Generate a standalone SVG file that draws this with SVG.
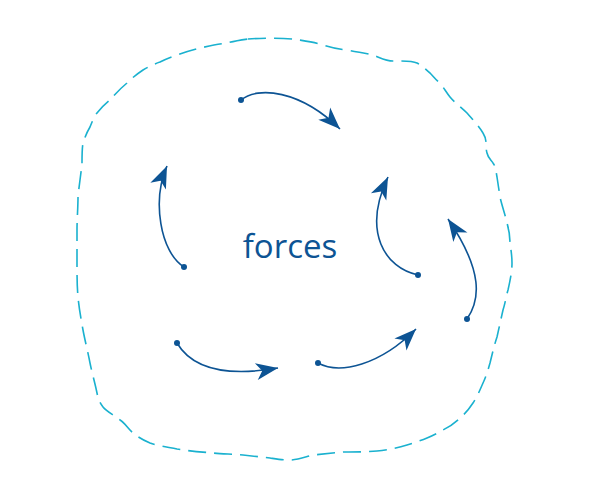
<svg xmlns="http://www.w3.org/2000/svg" width="600" height="500" viewBox="0 0 600 500">
<style>
.outline{fill:none;stroke:#1ab1cf;stroke-width:1.6;stroke-dasharray:18 8;stroke-linejoin:round}
.arr{fill:none;stroke:#0d5494;stroke-width:1.6}
.dot{fill:#0d5494}
.lbl{font-family:"Open Sans","Noto Sans","Liberation Sans",sans-serif;font-size:33px;fill:#0d5494}
</style>
<defs>
<marker id="head" viewBox="-24 -10 26 20" refX="0" refY="0" markerWidth="26" markerHeight="20" markerUnits="userSpaceOnUse" orient="auto">
<path d="M0,0 L-22,-8.5 L-16,0 L-22,8.5 Z" fill="#0d5494"/>
</marker>
</defs>
<g id="boundary">
<path class="outline" d="M248,39 C262,38 280,38 293,39 C305,41 314,42 323,45 C332,48 338,49 347,50 C356,52 365,53 373,55 C381,58 386,61 393,61 C402,61 412,61 417,63 C423,66 426,70 430,73 C434,77 436,80 440,83 C444,88 446,92 450,97 C455,103 461,107 467,113 C473,120 479,126 483,133 C488,141 485,147 487,153 C488,158 491,160 493,163 C496,167 496,172 497,177 C498,184 499,190 500,197 C502,206 505,214 507,223 C509,230 510,237 510,243 C511,250 512,256 512,263 C512,272 510,281 508,290 C506,297 505,304 503,310 C501,319 499,328 497,337 C494,346 492,355 490,363 C488,370 486,377 483,383 C480,390 477,397 473,403 C469,409 465,414 460,418 C455,423 449,427 443,430 C438,433 432,436 427,438 C420,441 413,443 407,445 C397,448 387,450 377,451 C366,452 354,452 343,452 C333,453 323,454 313,455 C305,457 298,460 290,460 C283,460 277,459 270,458 C261,457 252,456 243,455 C233,454 223,454 213,453 C201,452 189,451 177,449 C167,447 158,446 150,443 C143,440 138,437 133,433 C128,429 125,423 120,420 C114,415 107,412 103,407 C99,402 98,398 97,393 C95,383 92,373 90,363 C88,352 85,341 83,330 C81,319 79,308 78,297 C77,286 77,274 77,263 C77,252 77,241 77,230 C77,219 78,208 78,197 C79,186 81,174 82,163 C82,156 82,149 83,143 C85,137 87,132 90,127 C92,122 94,117 97,113 C101,108 105,104 110,100 C115,94 121,88 127,83 C132,78 137,74 143,70 C148,67 154,64 160,62 C166,59 171,57 177,55 C185,52 192,50 200,48 C209,46 218,44 227,43 C234,41 241,40 248,39 Z"/>
</g>
<g id="label">
<text class="lbl" x="290" y="258" text-anchor="middle">forces</text>
</g>
<g id="connectors">
<path class="arr" d="M241,100 C258,86 300,90 340,129" marker-end="url(#head)"/>
<circle class="dot" cx="241" cy="100" r="3"/>
<path class="arr" d="M184,267 C160,252 152,200 167,166" marker-end="url(#head)"/>
<circle class="dot" cx="184" cy="267" r="3"/>
<path class="arr" d="M177,343 C190,365 220,378 278,368" marker-end="url(#head)"/>
<circle class="dot" cx="177" cy="343" r="3"/>
<path class="arr" d="M318,363 C340,375 380,365 416,329" marker-end="url(#head)"/>
<circle class="dot" cx="318" cy="363" r="3"/>
<path class="arr" d="M418,275 C385,268 362,232 388,177" marker-end="url(#head)"/>
<circle class="dot" cx="418" cy="275" r="3"/>
<path class="arr" d="M467,319 C480,300 484,272 448,219" marker-end="url(#head)"/>
<circle class="dot" cx="467" cy="319" r="3"/>
</g>
</svg>
